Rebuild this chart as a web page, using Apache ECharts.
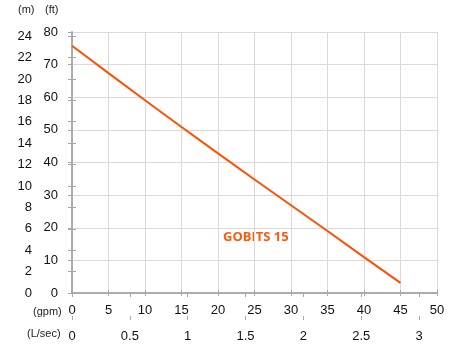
<!DOCTYPE html>
<html>
<head>
<meta charset="utf-8">
<script src="https://cdn.jsdelivr.net/npm/echarts@6/dist/echarts.min.js"></script>
<style>html,body{margin:0;padding:0;background:#fff;}#c{width:454px;height:360px;}</style>
</head>
<body>
<div id="c"></div>
<script>
// Data
const flowGpm = [0, 5, 10, 15, 20, 25, 30, 35, 40, 45];
const headFt = [75.8, 67.4, 59.1, 50.9, 42.8, 34.8, 26.9, 19.0, 11.0, 3.1];
const gpmTicks = [0, 5, 10, 15, 20, 25, 30, 35, 40, 45, 50];
const lsecTicks = [0, 0.5, 1, 1.5, 2, 2.5, 3];
const ftTicks = [0, 10, 20, 30, 40, 50, 60, 70, 80];
const mTicks = [0, 2, 4, 6, 8, 10, 12, 14, 16, 18, 20, 22, 24];
const seriesName = 'GOBITS 15';

const GPM_PER_LS = 15.850323;
const FT_PER_M = 3.28084;
const font = 'Liberation Sans, Arial, sans-serif';
const axisGray = '#a8a8a8';
const gridGray = '#d9d9d9';

const chart = echarts.init(document.getElementById('c'));
const baseLbl = {fontFamily: font, fontSize: 13, color: '#111'};

chart.setOption({
  animation: false,
  grid: {left: 72, right: 17, top: 32, bottom: 67},
  xAxis: [
    { type: 'value', position: 'bottom', min: gpmTicks[0], max: gpmTicks[gpmTicks.length - 1], interval: 5,
      axisLine: {show: true, lineStyle: {color: axisGray, width: 1.5}},
      axisTick: {show: true, length: 3, lineStyle: {color: axisGray}},
      axisLabel: Object.assign({margin: 11}, baseLbl),
      splitLine: {show: true, lineStyle: {color: gridGray, width: 1}} },
    { type: 'value', position: 'bottom', min: gpmTicks[0], max: gpmTicks[gpmTicks.length - 1], interval: 5,
      axisLine: {show: false},
      axisTick: {show: true, inside: true, length: 3, lineStyle: {color: axisGray}},
      axisLabel: {show: false}, splitLine: {show: false} },
    { type: 'value', position: 'bottom', offset: 27, min: 0, max: 50 / GPM_PER_LS,
      axisLine: {show: true, lineStyle: {color: axisGray, width: 1.5}},
      axisTick: {show: true, length: 4, customValues: lsecTicks, lineStyle: {color: axisGray}},
      axisLabel: Object.assign({margin: 10, customValues: lsecTicks}, baseLbl),
      splitLine: {show: false} },
    { type: 'value', position: 'bottom', offset: 27, min: 0, max: 50 / GPM_PER_LS,
      axisLine: {show: false},
      axisTick: {show: true, inside: true, length: 4, customValues: lsecTicks, lineStyle: {color: axisGray}},
      axisLabel: {show: false}, splitLine: {show: false} }
  ],
  yAxis: [
    { type: 'value', position: 'left', min: ftTicks[0], max: ftTicks[ftTicks.length - 1], interval: 10,
      axisLine: {show: true, lineStyle: {color: axisGray, width: 1.5}},
      axisTick: {show: true, length: 4, lineStyle: {color: axisGray}},
      axisLabel: Object.assign({margin: 14}, baseLbl),
      splitLine: {show: true, lineStyle: {color: gridGray, width: 1}} },
    { type: 'value', position: 'left', offset: 28, min: 0, max: 80 / FT_PER_M,
      axisLine: {show: true, lineStyle: {color: axisGray, width: 1.5}},
      axisTick: {show: true, length: 4, customValues: mTicks, lineStyle: {color: axisGray}},
      axisLabel: Object.assign({margin: 12, customValues: mTicks}, baseLbl),
      splitLine: {show: false} },
    { type: 'value', position: 'left', offset: 28, min: 0, max: 80 / FT_PER_M,
      axisLine: {show: false},
      axisTick: {show: true, inside: true, length: 4, customValues: mTicks, lineStyle: {color: axisGray}},
      axisLabel: {show: false}, splitLine: {show: false} }
  ],
  series: [{
    name: seriesName, type: 'line', xAxisIndex: 0, yAxisIndex: 0,
    data: flowGpm.map((g, i) => [g, headFt[i]]),
    showSymbol: false, symbol: 'none',
    lineStyle: {color: '#ff4f00', width: 2},
    itemStyle: {color: '#ff4f00'}
  }],
  graphic: [
    {type: 'text', left: 18, top: 4, style: {text: '(m)', font: '11px ' + font, fill: '#222'}},
    {type: 'text', left: 45, top: 4, style: {text: '(ft)', font: '11px ' + font, fill: '#222'}},
    {type: 'text', left: 33, top: 306, style: {text: '(gpm)', font: '11px ' + font, fill: '#222'}},
    {type: 'text', left: 27, top: 328, style: {text: '(L/sec)', font: '11px ' + font, fill: '#222'}},
    {type: 'text', left: 223, top: 231, style: {text: seriesName, font: 'bold 13px "Open Sans", sans-serif', fill: '#ff5a0a'}}
  ]
});
</script>
</body>
</html>
